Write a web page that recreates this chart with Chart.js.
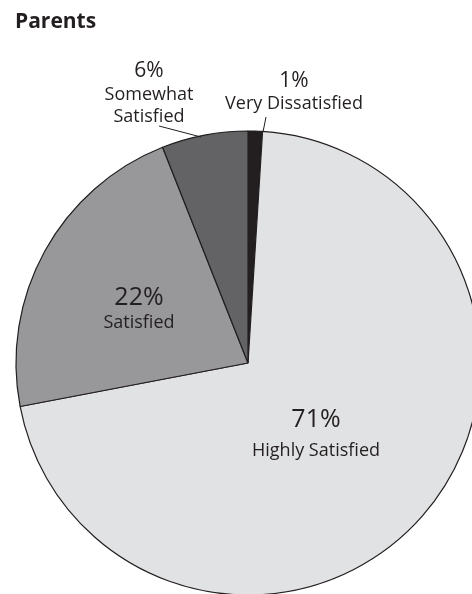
<!DOCTYPE html>
<html>
<head>
<meta charset="utf-8">
<script src="https://cdn.jsdelivr.net/npm/chart.js@4/dist/chart.umd.min.js"></script>
<style>
  html, body { margin: 0; padding: 0; background: #ffffff; }
  #wrap { position: relative; width: 472px; height: 594px; }
</style>
</head>
<body>
<div id="wrap"><canvas id="pie" width="472" height="594"></canvas></div>
<script>
// Survey responses, clockwise from 12 o'clock
const categories = ['Very Dissatisfied', 'Highly Satisfied', 'Satisfied', 'Somewhat Satisfied'];
const shares = [1, 71, 22, 6];
const sliceColors = ['#231f20', '#e1e2e3', '#98989b', '#636365'];
const chartTitle = 'Parents';

const ink = '#231f20';
const FONT = '"Open Sans", "DejaVu Sans", sans-serif';

// Label text for each slice: value line + category lines, plus leader lines
const labelLayout = [
  { value: 0, lines: ['Very Dissatisfied'], x: 294, valueY: 87, lineY: [109], valueSize: 21, leader: [[266, 117], [263, 132]] },
  { value: 1, lines: ['Highly Satisfied'], x: 316, valueY: 427, lineY: [456], valueSize: 25 },
  { value: 2, lines: ['Satisfied'], x: 139, valueY: 305, lineY: [328], valueSize: 25 },
  { value: 3, lines: ['Somewhat', 'Satisfied'], x: 149, valueY: 77, lineY: [100, 122], valueSize: 21, leader: [[159, 126], [201, 137]] }
];

const labelPlugin = {
  id: 'sliceLabels',
  afterDatasetsDraw(chart) {
    const ctx = chart.ctx;
    const vals = chart.data.datasets[0].data;
    ctx.save();
    ctx.fillStyle = ink;
    ctx.strokeStyle = ink;
    ctx.textBaseline = 'alphabetic';

    // chart heading
    ctx.textAlign = 'left';
    ctx.font = 'bold 21px ' + FONT;
    ctx.fillText(chartTitle, 15, 28);

    ctx.textAlign = 'center';
    labelLayout.forEach(l => {
      ctx.font = l.valueSize + 'px ' + FONT;
      ctx.fillText(vals[l.value] + '%', l.x, l.valueY);
      ctx.font = '18px ' + FONT;
      l.lines.forEach((t, i) => ctx.fillText(t, l.x, l.lineY[i]));
      if (l.leader) {
        ctx.lineWidth = 1;
        ctx.beginPath();
        ctx.moveTo(l.leader[0][0], l.leader[0][1]);
        ctx.lineTo(l.leader[1][0], l.leader[1][1]);
        ctx.stroke();
      }
    });
    ctx.restore();
  }
};

new Chart(document.getElementById('pie'), {
  type: 'pie',
  data: {
    labels: categories,
    datasets: [{
      data: shares,
      backgroundColor: sliceColors,
      borderColor: ink,
      borderWidth: 1.2,
      clip: false
    }]
  },
  options: {
    responsive: false,
    animation: false,
    radius: 232,
    layout: { padding: { left: 24, right: 0, top: 132, bottom: 0 } },
    plugins: {
      legend: { display: false },
      tooltip: { enabled: false },
      title: { display: false }
    }
  },
  plugins: [labelPlugin]
});
</script>
</body>
</html>
